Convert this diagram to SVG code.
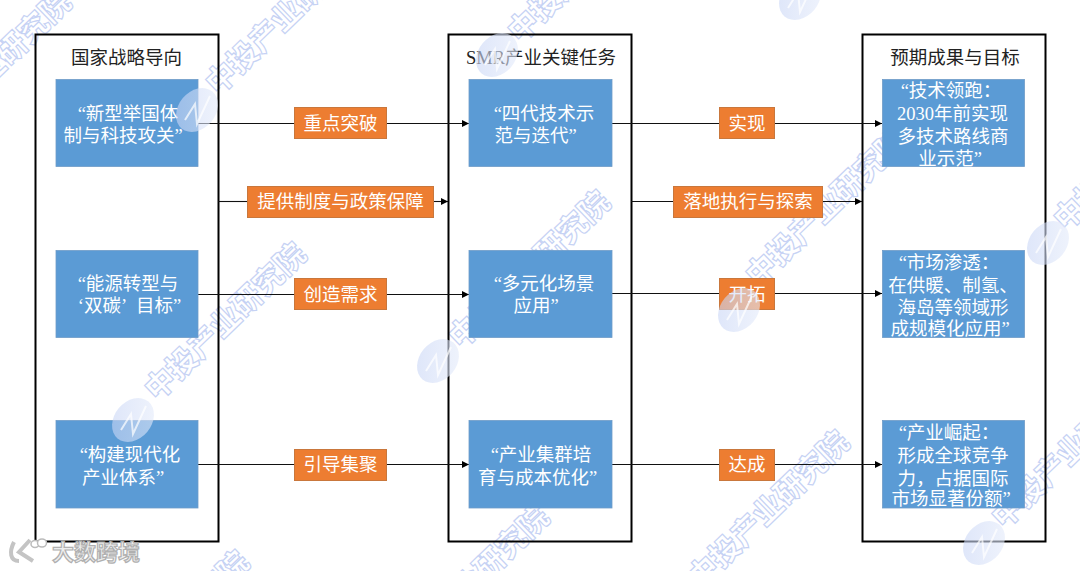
<svg xmlns="http://www.w3.org/2000/svg" width="1080" height="571" viewBox="0 0 1080 571">
<style>
text{font-family:"Liberation Serif","Noto Sans CJK SC",serif;font-size:18.5px;text-anchor:middle}
.panel{fill:none;stroke:#000;stroke-width:2}
.blue{fill:#5b9bd5;stroke:#6f9cc8;stroke-width:.8}
.lt{fill:#fff}
.org{fill:#ed7d31;stroke:#c9773c;stroke-width:1}
.title{fill:#222}
.lk{stroke:#111;stroke-width:1.1;fill:none}
.wm{font-family:"Noto Sans CJK SC",sans-serif;font-size:30px;font-weight:900;fill:#fff;stroke:#c6d2f4;stroke-width:1.2;text-anchor:start}
.stamp{font-family:"Noto Sans CJK SC",sans-serif;font-size:22px;font-weight:700;fill:#eee;stroke:#b0b0b0;stroke-width:1.2;text-anchor:start}
</style>
<defs>
<marker id="ah" viewBox="0 0 7 7" refX="7" refY="3.5" markerWidth="7" markerHeight="7" markerUnits="userSpaceOnUse" orient="auto"><path d="M0 0L7 3.500L0 7z" fill="#000"/></marker>
<linearGradient id="lg" x1="0" y1="0" x2="1" y2="1"><stop offset="0" stop-color="#c4d2f5"/><stop offset="1" stop-color="#e8eefb"/></linearGradient>
<g id="logo"><ellipse rx="24" ry="18.5" transform="rotate(-50)" fill="url(#lg)" fill-opacity=".6"/><path d="M-12 10L-2-6L0 14L13-14" fill="none" stroke="#fff" stroke-width="2" stroke-opacity=".7"/></g>
</defs>
<rect width="1080" height="571" fill="#fff"/>
<g id="watermarks">
<text class="wm" transform="translate(-78 150) rotate(-44)">中投产业研究院</text>
<text class="wm" transform="translate(218 96) rotate(-44)">中投产业研究院</text>
<text class="wm" transform="translate(157 402) rotate(-44)">中投产业研究院</text>
<text class="wm" transform="translate(520 44) rotate(-44)">中投产业研究院</text>
<text class="wm" transform="translate(461 350) rotate(-44)">中投产业研究院</text>
<text class="wm" transform="translate(758 288) rotate(-44)">中投产业研究院</text>
<text class="wm" transform="translate(700 590) rotate(-44)">中投产业研究院</text>
<text class="wm" transform="translate(1004 530) rotate(-44)">中投产业研究院</text>
<text class="wm" transform="translate(1066 232) rotate(-44)">中投产业研究院</text>
<text class="wm" transform="translate(400 665) rotate(-44)">中投产业研究院</text>
<text class="wm" transform="translate(100 710) rotate(-44)">中投产业研究院</text>
</g>
<g id="panel-left"><rect class="panel" x="35.500" y="34.500" width="183" height="507"/><text class="title" x="126.500" y="63.500">国家战略导向</text></g>
<g id="panel-middle"><rect class="panel" x="448.500" y="34.500" width="183" height="507"/><text class="title" x="541" y="63.500">SMR产业关键任务</text></g>
<g id="panel-right"><rect class="panel" x="862.500" y="34.500" width="183" height="507"/><text class="title" x="955" y="63.500">预期成果与目标</text></g>
<g id="connectors">
<path class="lk" d="M198 123.500H294"/><path class="lk" d="M387 123.500H469" marker-end="url(#ah)"/>
<path class="lk" d="M218 201.500H247"/><path class="lk" d="M434 201.500H448" marker-end="url(#ah)"/>
<path class="lk" d="M198 294.500H294"/><path class="lk" d="M387 294.500H469" marker-end="url(#ah)"/>
<path class="lk" d="M198 464.500H294"/><path class="lk" d="M387 464.500H469" marker-end="url(#ah)"/>
<path class="lk" d="M612 123.500H719"/><path class="lk" d="M775 123.500H882" marker-end="url(#ah)"/>
<path class="lk" d="M631 201.500H673"/><path class="lk" d="M823 201.500H862" marker-end="url(#ah)"/>
<path class="lk" d="M612 293.500H719"/><path class="lk" d="M775 293.500H882" marker-end="url(#ah)"/>
<path class="lk" d="M612 464.500H719"/><path class="lk" d="M775 464.500H882" marker-end="url(#ah)"/>
</g>
<g id="n-l1"><rect class="blue" x="56" y="79.500" width="142" height="87"/><text class="lt" x="128" y="119.500">“新型举国体</text><text class="lt" x="123" y="141.500">制与科技攻关”</text></g>
<g id="n-l2"><rect class="blue" x="56" y="250.500" width="142" height="87"/><text class="lt" x="128" y="289.500">“能源转型与</text><text class="lt" x="129.500" y="311.500">‘双碳’<tspan dx="9">目标”</tspan></text></g>
<g id="n-l3"><rect class="blue" x="56" y="420.500" width="142" height="87.500"/><text class="lt" x="130" y="461">“构建现代化</text><text class="lt" x="123" y="483.500">产业体系”</text></g>
<g id="n-m1"><rect class="blue" x="469" y="79.500" width="143" height="87"/><text class="lt" x="544" y="119.500">“四代技术示</text><text class="lt" x="535.500" y="141.500">范与迭代”</text></g>
<g id="n-m2"><rect class="blue" x="469" y="250.500" width="143" height="87"/><text class="lt" x="544" y="289.500">“多元化场景</text><text class="lt" x="536" y="311.500">应用”</text></g>
<g id="n-m3"><rect class="blue" x="469" y="420.500" width="143" height="87.500"/><text class="lt" x="541" y="461">“产业集群培</text><text class="lt" x="537.500" y="483.500">育与成本优化”</text></g>
<g id="n-r1"><rect class="blue" x="882.500" y="79.500" width="142" height="87"/><text class="lt" x="951" y="97">“技术领跑：</text><text class="lt" x="952.500" y="119.500">2030年前实现</text><text class="lt" x="953" y="142.500">多技术路线商</text><text class="lt" x="950" y="165">业示范”</text></g>
<g id="n-r2"><rect class="blue" x="882.500" y="250.500" width="142" height="87"/><text class="lt" x="949" y="268.500">“市场渗透：</text><text class="lt" x="953" y="291.500">在供暖、制氢、</text><text class="lt" x="953" y="313.500">海岛等领域形</text><text class="lt" x="950" y="335">成规模化应用”</text></g>
<g id="n-r3"><rect class="blue" x="882.500" y="420.500" width="142" height="87.500"/><text class="lt" x="949" y="439">“产业崛起：</text><text class="lt" x="953" y="462">形成全球竞争</text><text class="lt" x="953" y="484.500">力，占据国际</text><text class="lt" x="951" y="505">市场显著份额”</text></g>
<g id="lb1"><rect class="org" x="294.500" y="107.500" width="92" height="31"/><text class="lt" x="340.500" y="129.500">重点突破</text></g>
<g id="lb2"><rect class="org" x="247.500" y="186.500" width="186" height="31"/><text class="lt" x="340.500" y="208">提供制度与政策保障</text></g>
<g id="lb3"><rect class="org" x="294.500" y="278.500" width="92" height="31"/><text class="lt" x="340.500" y="300.500">创造需求</text></g>
<g id="lb4"><rect class="org" x="294.500" y="449.500" width="92" height="31"/><text class="lt" x="340.500" y="471">引导集聚</text></g>
<g id="lb5"><rect class="org" x="719.500" y="107.500" width="55" height="31"/><text class="lt" x="747" y="129.500">实现</text></g>
<g id="lb6"><rect class="org" x="673.500" y="186.500" width="149" height="31"/><text class="lt" x="748" y="208">落地执行与探索</text></g>
<g id="lb7"><rect class="org" x="719.500" y="278.500" width="55" height="31"/><text class="lt" x="747" y="300.500">开拓</text></g>
<g id="lb8"><rect class="org" x="719.500" y="449.500" width="55" height="31"/><text class="lt" x="747" y="471">达成</text></g>
<g id="logos"><use href="#logo" x="197" y="110"/><use href="#logo" x="133" y="420"/><use href="#logo" x="497" y="55"/><use href="#logo" x="800" y="-2"/><use href="#logo" x="438" y="361"/><use href="#logo" x="1048" y="243"/><use href="#logo" x="739" y="310"/><use href="#logo" x="984" y="543"/></g>
<g id="stamp">
<path d="M14 542C9 552 10 561 19 561M30 540L19 552L33 561" fill="none" stroke="#c4c4c4" stroke-width="4"/>
<ellipse cx="35" cy="544" rx="4" ry="3.500" fill="#fff" stroke="#bbb" stroke-width="1.500"/><ellipse cx="42" cy="543" rx="4.500" ry="4" fill="#fff" stroke="#bbb" stroke-width="1.500"/>
<text class="stamp" x="52" y="560">大数跨境</text>
</g>
</svg>
